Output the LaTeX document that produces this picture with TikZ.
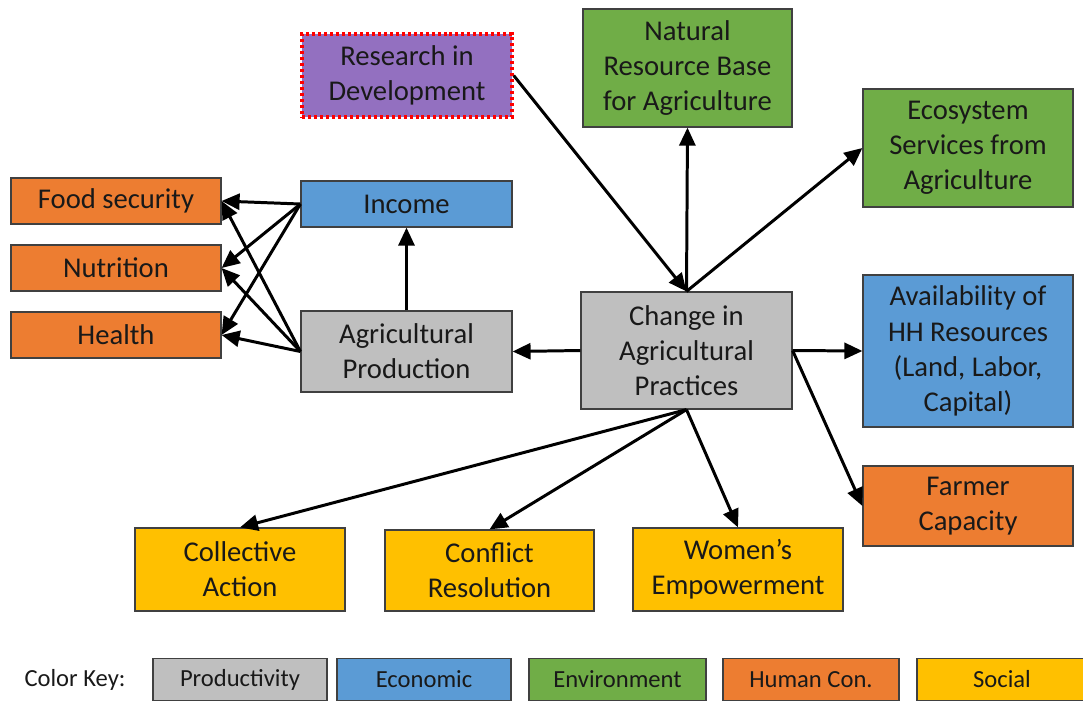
\documentclass[tikz,border=0pt]{standalone}
\usepackage{fontspec}
\setmainfont{Carlito}
\usepackage{xcolor}
\usetikzlibrary{arrows.meta}
\definecolor{prodgray}{HTML}{BFBFBF}
\definecolor{econblue}{HTML}{5B9BD5}
\definecolor{envgreen}{HTML}{70AD47}
\definecolor{humorange}{HTML}{ED7D31}
\definecolor{socyellow}{HTML}{FFC000}
\definecolor{resviolet}{HTML}{9370C0}
\definecolor{edgegray}{HTML}{404040}
\begin{document}
\begin{tikzpicture}[x=0.02cm,y=-0.02cm,
  box/.style={draw=edgegray,line width=0.7pt,align=center,inner sep=0,
    font=\fontsize{16.3}{20}\selectfont,text=black!90},
  keybox/.style={draw=edgegray,line width=0.7pt,inner sep=0,minimum height=0.84cm,
    font=\fontsize{14}{16}\selectfont,text=black!90},
  arr/.style={line width=1.7pt,-{Triangle[length=0.36cm,width=0.32cm]}}]
\useasboundingbox (0,0) rectangle (1083,701);
\node[box,fill=resviolet,draw=red,line width=2pt,dash pattern=on 1.7pt off 1.7pt,minimum width=4.2cm,minimum height=1.66cm] (res) at (407,75.5) {Research in\\Development};
\node[box,fill=envgreen,minimum width=4.18cm,minimum height=2.36cm] (nrb) at (687.5,68) {Natural\\Resource Base\\for Agriculture};
\node[box,fill=envgreen,minimum width=4.2cm,minimum height=2.36cm] (eco) at (968,148) {Ecosystem\\Services from\\Agriculture};
\node[box,fill=humorange,minimum width=4.2cm,minimum height=0.92cm] (food) at (116,201) {Food security};
\node[box,fill=humorange,minimum width=4.2cm,minimum height=0.92cm] (nutr) at (116,268) {Nutrition};
\node[box,fill=humorange,minimum width=4.2cm,minimum height=0.92cm] (hlth) at (116,335) {Health};
\node[box,fill=econblue,minimum width=4.22cm,minimum height=0.92cm] (inc) at (406.5,204) {Income};
\node[box,fill=prodgray,minimum width=4.22cm,minimum height=1.62cm] (agp) at (406.5,351.5) {Agricultural\\Production};
\node[box,fill=prodgray,minimum width=4.22cm,minimum height=2.34cm] (chg) at (686.5,350.5) {Change in\\Agricultural\\Practices};
\node[box,fill=econblue,minimum width=4.2cm,minimum height=3.04cm] (hh) at (968,351) {Availability of\\HH Resources\\(Land, Labor,\\Capital)};
\node[box,fill=humorange,minimum width=4.2cm,minimum height=1.6cm] (fc) at (968,506) {Farmer\\Capacity};
\node[box,fill=socyellow,minimum width=4.2cm,minimum height=1.66cm] (coll) at (240,569.5) {Collective\\Action};
\node[box,fill=socyellow,minimum width=4.18cm,minimum height=1.62cm] (conf) at (489.5,570.5) {Conflict\\Resolution};
\node[box,fill=socyellow,minimum width=4.2cm,minimum height=1.66cm] (wom) at (738,569.5) {Women’s\\Empowerment};
\draw[arr] (res.east) -- (chg.north);
\draw[arr] (chg.north) -- (nrb.south);
\draw[arr] (chg.north) -- (eco.west);
\draw[arr] (chg.west) -- (agp.east);
\draw[arr] (agp.north) -- (inc.south);
\draw[arr] (inc.west) -- (food.east);
\draw[arr] (inc.west) -- (nutr.east);
\draw[arr] (inc.west) -- (hlth.east);
\draw[arr] (agp.west) -- (food.east);
\draw[arr] (agp.west) -- (nutr.east);
\draw[arr] (agp.west) -- (hlth.east);
\draw[arr] (chg.east) -- (hh.west);
\draw[arr] (chg.east) -- (fc.west);
\draw[arr] (chg.south) -- (coll.north);
\draw[arr] (chg.south) -- (conf.north);
\draw[arr] (chg.south) -- (wom.north);
\node[font=\fontsize{14}{16}\selectfont,text=black!90] (key) at (75,680) {Color Key:};
\node[keybox,fill=prodgray,minimum width=3.48cm] (kprod) at (240,679.5) {Productivity};
\node[keybox,fill=econblue,minimum width=3.48cm] (kecon) at (424,679.5) {Economic};
\node[keybox,fill=envgreen,minimum width=3.54cm] (kenv) at (617.5,679.5) {Environment};
\node[keybox,fill=humorange,minimum width=3.52cm] (khum) at (811,679.5) {Human Con.};
\node[keybox,fill=socyellow,minimum width=3.4cm] (ksoc) at (1002,679.5) {Social};
\end{tikzpicture}
\end{document}
